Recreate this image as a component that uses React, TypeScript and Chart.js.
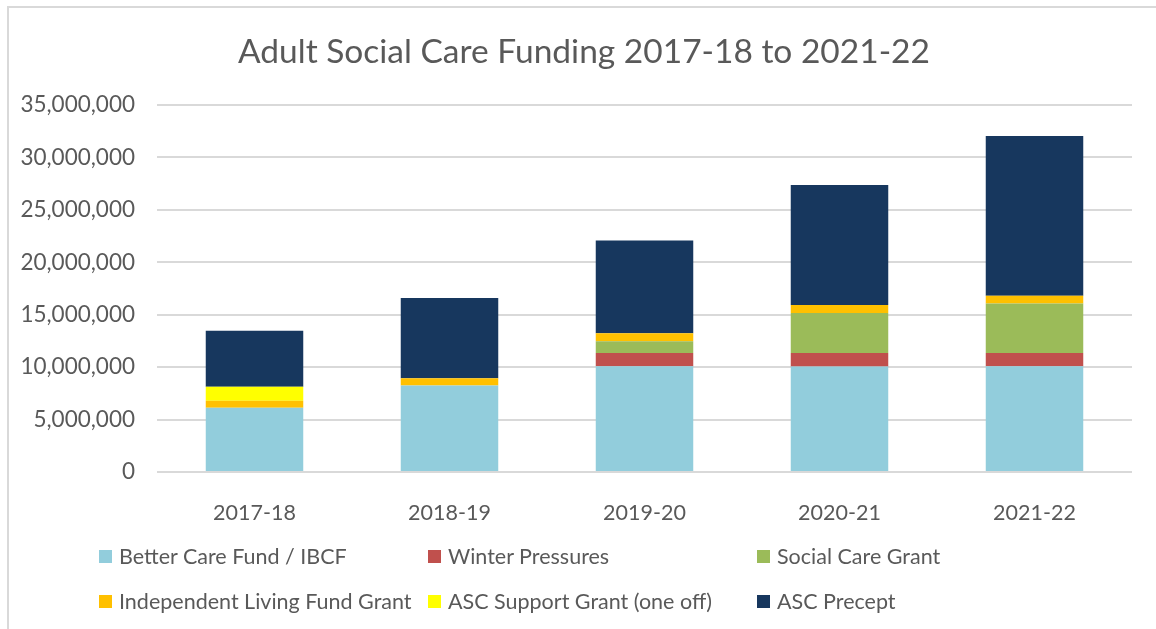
import React, { useEffect, useRef } from "react";
import { Chart, registerables } from "chart.js";

Chart.register(...registerables);

const categories = ["2017-18", "2018-19", "2019-20", "2020-21", "2021-22"];
const betterCareFund = [6130000, 8250000, 10080000, 10050000, 10080000];
const winterPressures = [0, 0, 1280000, 1310000, 1280000];
const socialCareGrant = [0, 0, 1110000, 3810000, 4700000];
const independentLivingFund = [670000, 690000, 760000, 750000, 740000];
const ascSupportGrant = [1330000, 0, 0, 0, 0];
const ascPrecept = [5340000, 7660000, 8840000, 11450000, 15250000];
const yTicks = [0, 5000000, 10000000, 15000000, 20000000, 25000000, 30000000, 35000000];

const seriesNames = [
  "Better Care Fund / IBCF",
  "Winter Pressures",
  "Social Care Grant",
  "Independent Living Fund Grant",
  "ASC Support Grant (one off)",
  "ASC Precept",
];
const seriesColors = ["#92CDDC", "#C0504D", "#9BBB59", "#FFC000", "#FFFF00", "#17375E"];
const seriesData = [
  betterCareFund,
  winterPressures,
  socialCareGrant,
  independentLivingFund,
  ascSupportGrant,
  ascPrecept,
];
const legendOrder = [0, 1, 2, 3, 4, 5];

const FONT = "Lato, 'Noto Sans', sans-serif";
const TEXT = "#595959";

export default function App() {
  const ref = useRef<HTMLCanvasElement | null>(null);

  useEffect(() => {
    if (!ref.current) return;
    const chart = new Chart(ref.current, {
      type: "bar",
      data: {
        labels: categories,
        datasets: seriesData.map((d, i) => ({
          label: seriesNames[i],
          data: d,
          backgroundColor: seriesColors[i],
          borderWidth: 0,
          barPercentage: 0.5,
          categoryPercentage: 1,
        })),
      },
      options: {
        animation: false,
        responsive: false,
        maintainAspectRatio: false,
        layout: { padding: { top: 97, right: 24, left: 0, bottom: 0 } },
        plugins: {
          legend: { display: false },
          title: { display: false },
          tooltip: { enabled: false },
        },
        scales: {
          x: {
            stacked: true,
            grid: { display: false },
            border: { display: false },
            ticks: {
              color: TEXT,
              font: { family: FONT, size: 21.5 },
              padding: 20,
            },
            afterFit: (s: any) => {
              s.height = 157;
            },
          },
          y: {
            stacked: true,
            min: 0,
            max: 35000000,
            afterBuildTicks: (s: any) => {
              s.ticks = yTicks.map((v) => ({ value: v }));
            },
            grid: { color: "#D9D9D9", lineWidth: 2, drawTicks: false },
            border: { display: false },
            ticks: {
              color: TEXT,
              font: { family: FONT, size: 22.5 },
              padding: 22,
              callback: (v: any) => Number(v).toLocaleString("en-US"),
            },
            afterFit: (s: any) => {
              s.width = 148;
            },
          },
        },
      },
    });
    return () => chart.destroy();
  }, []);

  return (
    <div
      style={{
        position: "fixed",
        left: 0,
        top: 0,
        width: 1156,
        height: 629,
        overflow: "hidden",
        background: "#fff",
        fontFamily: FONT,
      }}
    >
      <div
        style={{
          position: "absolute",
          left: 7,
          top: 6,
          width: 1200,
          height: 700,
          borderLeft: "2px solid #D9D9D9",
          borderTop: "2px solid #D9D9D9",
        }}
      />
      <canvas
        ref={ref}
        width={1147}
        height={621}
        style={{ position: "absolute", left: 9, top: 8, width: 1147, height: 621 }}
      />
      <div
        style={{
          position: "absolute",
          left: 9,
          width: 1150,
          top: 29,
          textAlign: "center",
          color: TEXT,
          fontSize: 33.5,
          lineHeight: "42px",
          whiteSpace: "nowrap",
        }}
      >
        Adult Social Care Funding 2017-18 to 2021-22
      </div>
      {legendOrder.map((idx, k) => {
        const col = k % 3;
        const row = Math.floor(k / 3);
        return (
          <div
            key={idx}
            style={{
              position: "absolute",
              left: 99 + col * 329,
              top: 556 + row * 45 - 14,
              height: 28,
              display: "flex",
              alignItems: "center",
              whiteSpace: "nowrap",
              color: TEXT,
              fontSize: 21.5,
            }}
          >
            <span
              style={{
                display: "inline-block",
                width: 13,
                height: 13,
                background: seriesColors[idx],
                marginRight: 7,
              }}
            />
            <span>{seriesNames[idx]}</span>
          </div>
        );
      })}
    </div>
  );
}
